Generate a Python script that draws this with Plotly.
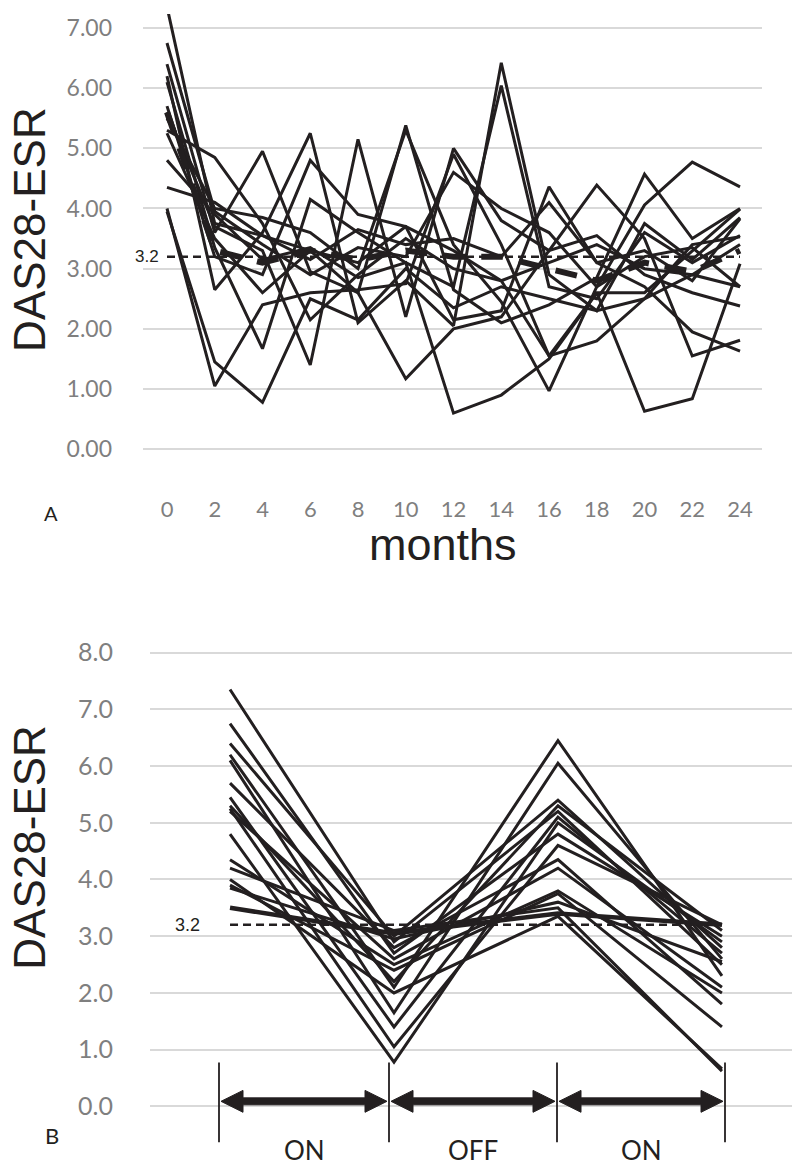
import plotly.graph_objects as go

# ---------------- Panel A data: DAS28-ESR every 2 months ----------------
months = [0, 2, 4, 6, 8, 10, 12, 14, 16, 18, 20, 22, 24]
month_labels = ["0", "2", "4", "6", "8", "10", "12", "14", "16", "18", "20", "22", "24"]

p01 = [7.35, 3.75, 3.55, 3.30, 3.10, 3.70, 3.30, 2.80, 3.10, 3.40, 3.00, 2.90, 3.40]
p02 = [6.75, 3.95, 3.40, 2.90, 3.35, 3.20, 4.60, 4.00, 3.60, 2.70, 3.20, 3.35, 2.70]
p03 = [6.40, 3.60, 4.95, 2.95, 2.60, 5.38, 2.65, 2.10, 2.40, 2.85, 4.57, 3.50, 4.00]
p04 = [6.20, 2.65, 3.60, 5.25, 2.10, 2.80, 2.05, 6.42, 2.90, 2.30, 3.75, 3.15, 3.85]
p05 = [6.10, 3.35, 1.67, 4.15, 3.60, 3.10, 2.70, 6.04, 2.70, 2.50, 3.60, 3.10, 3.55]
p06 = [5.70, 3.20, 2.90, 4.80, 3.90, 3.70, 2.15, 2.30, 4.36, 3.10, 2.70, 1.95, 1.63]
p07 = [5.60, 3.70, 3.30, 1.40, 5.15, 2.20, 5.00, 3.80, 3.30, 4.39, 3.50, 1.55, 1.81]
p08 = [5.50, 4.00, 3.85, 3.60, 3.00, 5.30, 3.40, 2.45, 0.97, 2.70, 4.06, 4.77, 4.36]
p09 = [5.30, 4.85, 3.75, 2.15, 2.90, 3.50, 3.00, 2.80, 1.55, 2.60, 0.63, 0.84, 3.08]
p10 = [5.25, 3.50, 2.60, 3.30, 2.60, 1.17, 2.00, 2.20, 3.30, 3.55, 2.90, 2.60, 2.38]
p11 = [4.80, 3.90, 3.15, 3.35, 2.85, 3.10, 0.60, 0.90, 1.50, 2.60, 2.60, 3.30, 3.99]
p12 = [4.35, 4.10, 3.55, 3.15, 3.65, 3.40, 3.50, 3.20, 4.10, 3.10, 3.30, 2.80, 3.83]
p13 = [4.00, 1.05, 2.40, 2.60, 2.65, 2.75, 4.90, 3.40, 1.55, 1.80, 2.50, 3.40, 3.53]
p14 = [3.95, 1.45, 0.78, 2.50, 2.15, 3.00, 2.35, 2.70, 2.50, 2.30, 2.50, 2.90, 2.70]
mean_a = [5.60, 3.30, 3.10, 3.30, 3.15, 3.30, 3.20, 3.20, 3.00, 2.80, 3.10, 2.95, 3.30]

panel_a = [p01, p02, p03, p04, p05, p06, p07, p08, p09, p10, p11, p12, p13, p14]

# ---------------- Panel B data: ON / OFF / ON phases ----------------
phase_x = [0, 1, 2, 3]
b_baseline = [7.35, 6.75, 6.40, 6.20, 6.10, 5.70, 5.45, 5.30, 5.25, 5.20, 4.80, 4.35, 4.20, 4.00, 3.90, 3.85, 3.50]
b_on_end   = [2.90, 2.70, 3.00, 2.10, 1.65, 2.80, 1.40, 2.20, 1.05, 2.60, 0.78, 2.50, 3.10, 2.00, 2.40, 2.95, 3.05]
b_off_end  = [5.20, 4.80, 5.40, 6.45, 6.05, 4.35, 5.10, 5.30, 4.60, 4.20, 5.00, 3.80, 3.50, 3.35, 3.75, 3.60, 3.40]
b_final    = [2.50, 3.00, 2.80, 2.30, 2.60, 1.80, 2.70, 3.10, 3.20, 2.10, 2.90, 2.00, 0.62, 0.66, 1.40, 2.55, 3.20]

threshold = 3.2
phase_labels = ["ON", "OFF", "ON"]

# ---------------- styling ----------------
# the page body keeps an 8px margin, so the figure is sized to fill the rest
OX, OY = 8, 8
W, H = 800 - OX, 1167 - OY
INK = "#231f20"
GRID = "#d9d9d9"
TICK = "#7f7f7f"


def px(x):
    return (x - OX) / W


def py(y):
    return 1 - (y - OY) / H


fig = go.Figure()

for p in panel_a:
    fig.add_trace(go.Scatter(x=months, y=p, mode="lines", xaxis="x", yaxis="y",
                             line=dict(color=INK, width=3), showlegend=False, hoverinfo="skip"))
fig.add_trace(go.Scatter(x=months, y=mean_a, mode="lines", xaxis="x", yaxis="y",
                         line=dict(color=INK, width=6, dash="22px,16px"), showlegend=False, hoverinfo="skip"))
fig.add_trace(go.Scatter(x=[months[0], months[-1]], y=[threshold, threshold], mode="lines",
                         xaxis="x", yaxis="y", line=dict(color=INK, width=2.5, dash="8px,5px"),
                         showlegend=False, hoverinfo="skip"))

for i in range(len(b_baseline)):
    ys = [b_baseline[i], b_on_end[i], b_off_end[i], b_final[i]]
    w = 4.5 if i == len(b_baseline) - 1 else 3
    fig.add_trace(go.Scatter(x=phase_x, y=ys, mode="lines", xaxis="x2", yaxis="y2",
                             line=dict(color=INK, width=w), showlegend=False, hoverinfo="skip"))
fig.add_trace(go.Scatter(x=[phase_x[0], phase_x[-1]], y=[threshold, threshold], mode="lines",
                         xaxis="x2", yaxis="y2", line=dict(color=INK, width=2.5, dash="8px,5px"),
                         showlegend=False, hoverinfo="skip"))

# axis geometry (reference pixel positions)
a_top, a_bottom = 8, 490
a_zero_px, a_unit = 445.5, 60.5
b_top, b_bottom = 640, 1167
b_zero_px, b_unit = 1106, 57.0

fig.update_layout(
    width=W, height=H, autosize=False,
    margin=dict(l=0, r=0, t=0, b=0),
    paper_bgcolor="white", plot_bgcolor="white",
    xaxis=dict(domain=[px(143), px(762)], range=[-1.005, 24.92], anchor="y",
               tickmode="array", tickvals=months, ticktext=month_labels,
               tickfont=dict(family="Lato", size=22, color=TICK),
               showgrid=False, zeroline=False, showline=False, ticks=""),
    yaxis=dict(domain=[py(a_bottom), py(a_top)],
               range=[-(a_bottom - a_zero_px) / a_unit, (a_zero_px - a_top) / a_unit], anchor="x",
               tickmode="array", tickvals=[0, 1, 2, 3, 4, 5, 6, 7], tickformat=".2f",
               tickfont=dict(family="Lato", size=23, color=TICK), ticklabelstandoff=30,
               showgrid=True, gridcolor=GRID, gridwidth=2, zeroline=False, showline=False, ticks=""),
    xaxis2=dict(domain=[px(150), 1], range=[-0.488, 3.476], anchor="y2",
                showticklabels=False, showgrid=False, zeroline=False, showline=False, ticks=""),
    yaxis2=dict(domain=[py(b_bottom), py(b_top)],
                range=[-(b_bottom - b_zero_px) / b_unit, (b_zero_px - b_top) / b_unit], anchor="x2",
                tickmode="array", tickvals=[0, 1, 2, 3, 4, 5, 6, 7, 8], tickformat=".1f",
                tickfont=dict(family="Lato", size=25, color=TICK), ticklabelstandoff=36,
                showgrid=True, gridcolor=GRID, gridwidth=2, zeroline=False, showline=False, ticks=""),
)

ann = []
title_font = dict(family="Liberation Sans, Arial", size=44, color=INK)
ann.append(dict(text="DAS28-ESR", x=px(30), y=py(225), xref="paper", yref="paper",
                textangle=-90, showarrow=False, font=title_font, xanchor="center", yanchor="middle"))
ann.append(dict(text="DAS28-ESR", x=px(30), y=py(846), xref="paper", yref="paper",
                textangle=-90, showarrow=False, font=title_font, xanchor="center", yanchor="middle"))
ann.append(dict(text="months", x=px(443), y=py(541), xref="paper", yref="paper", showarrow=False,
                font=dict(family="Liberation Sans, Arial", size=45, color=INK),
                xanchor="center", yanchor="middle"))
ann.append(dict(text="A", x=px(51), y=py(510), xref="paper", yref="paper", showarrow=False,
                font=dict(family="Lato", size=20, color=INK), xanchor="center", yanchor="middle"))
ann.append(dict(text="B", x=px(52), y=py(1135), xref="paper", yref="paper", showarrow=False,
                font=dict(family="Lato", size=22, color=INK), xanchor="center", yanchor="middle"))
ann.append(dict(text="3.2", x=months[0], y=threshold, xref="x", yref="y", showarrow=False,
                xanchor="right", xshift=-6, yanchor="middle",
                font=dict(family="Liberation Sans, Arial", size=17, color=INK)))
ann.append(dict(text="3.2", x=phase_x[0], y=threshold, xref="x2", yref="y2", showarrow=False,
                xanchor="right", xshift=-28, yanchor="middle",
                font=dict(family="Liberation Sans, Arial", size=18, color=INK)))

bounds = [219, 389, 557, 725]
for k, lab in enumerate(phase_labels):
    cx = (bounds[k] + bounds[k + 1]) / 2
    ann.append(dict(text=lab, x=px(cx), y=py(1150), xref="paper", yref="paper", showarrow=False,
                    font=dict(family="Lato", size=26, color=INK), xanchor="center", yanchor="middle"))
fig.update_layout(annotations=ann)

# phase markers and double arrows (decoration in pixel space)
shapes = []
for bx in bounds:
    shapes.append(dict(type="line", xref="paper", yref="paper", x0=px(bx), x1=px(bx),
                       y0=py(1062), y1=py(1142), line=dict(color=INK, width=1.8)))
ay = 1101
hl, hh, sw = 22, 11, 3.5
for k in range(3):
    x0, x1 = bounds[k] + 2, bounds[k + 1] - 2
    path = (f"M {px(x0)} {py(ay)} L {px(x0 + hl)} {py(ay - hh)} L {px(x0 + hl)} {py(ay - sw)} "
            f"L {px(x1 - hl)} {py(ay - sw)} L {px(x1 - hl)} {py(ay - hh)} L {px(x1)} {py(ay)} "
            f"L {px(x1 - hl)} {py(ay + hh)} L {px(x1 - hl)} {py(ay + sw)} L {px(x0 + hl)} {py(ay + sw)} "
            f"L {px(x0 + hl)} {py(ay + hh)} Z")
    shapes.append(dict(type="path", xref="paper", yref="paper", path=path,
                       fillcolor=INK, line=dict(color=INK, width=1)))
fig.update_layout(shapes=shapes)

fig.write_html("out.html")
